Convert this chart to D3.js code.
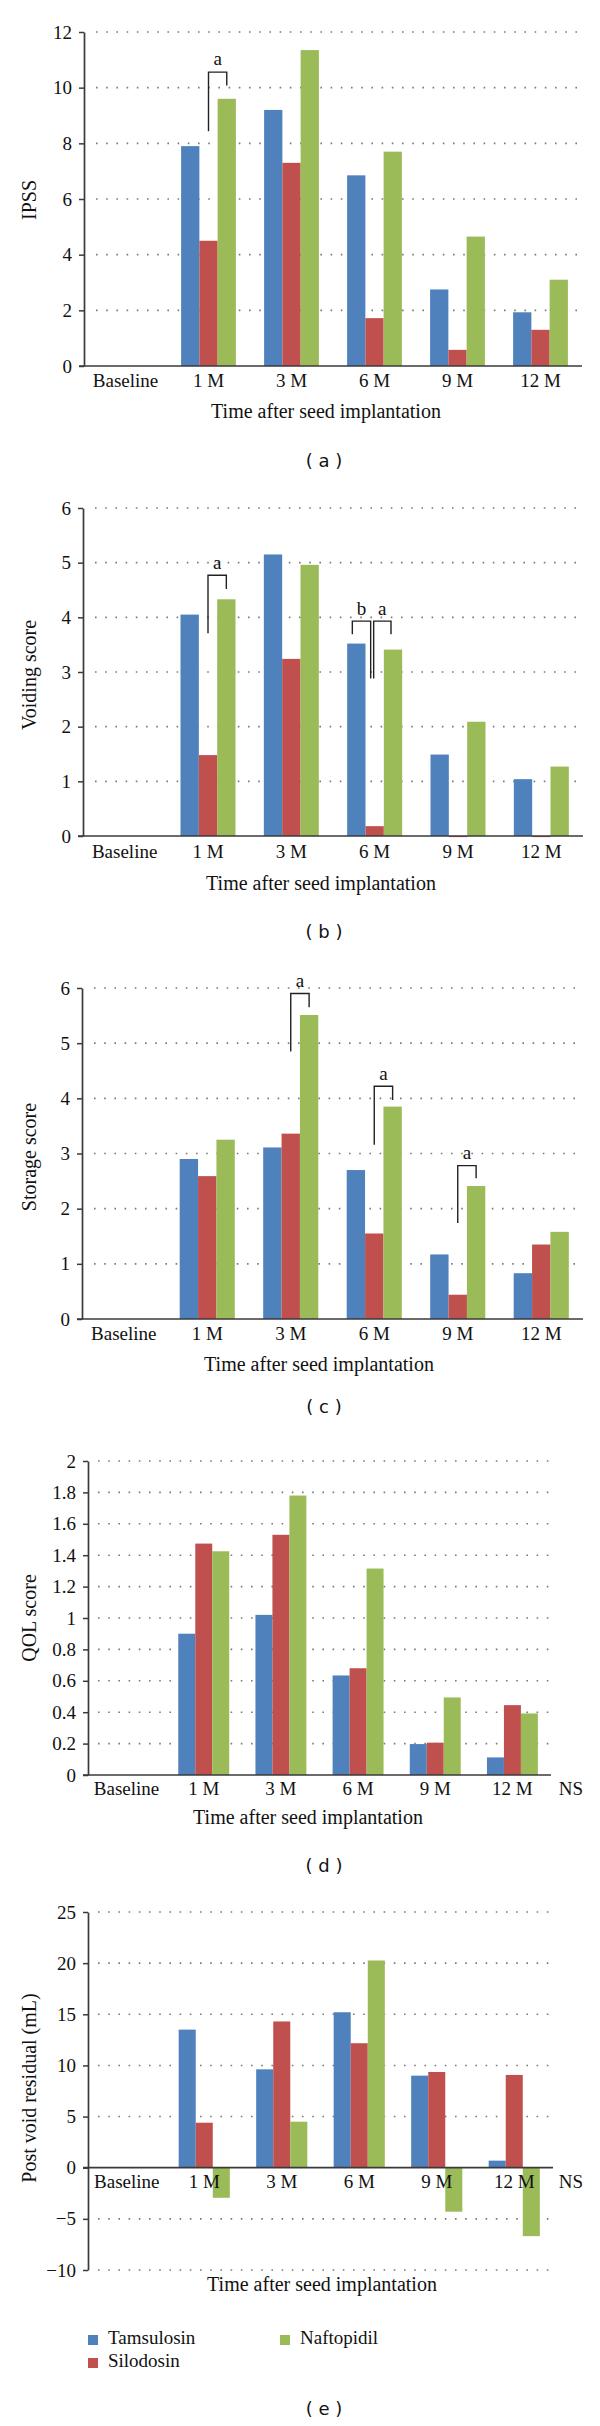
<!DOCTYPE html>
<html><head><meta charset="utf-8">
<script src="https://cdn.jsdelivr.net/npm/d3@7/dist/d3.min.js"></script>
<style>body{margin:0;background:#fff}svg{display:block}</style>
</head><body>
<script>
// ---------- data ----------
const categories = ["Baseline", "1 M", "3 M", "6 M", "9 M", "12 M"];
const seriesNames = ["Tamsulosin", "Silodosin", "Naftopidil"];
const seriesColors = ["#4F81BD", "#C0504D", "#9BBB59"];

const ipssTamsulosin  = [0, 7.9, 9.2, 6.85, 2.75, 1.93];
const ipssSilodosin   = [0, 4.5, 7.3, 1.72, 0.58, 1.3];
const ipssNaftopidil  = [0, 9.6, 11.35, 7.7, 4.65, 3.1];

const voidingTamsulosin = [0, 4.05, 5.15, 3.52, 1.49, 1.04];
const voidingSilodosin  = [0, 1.48, 3.24, 0.18, -0.02, -0.02];
const voidingNaftopidil = [0, 4.33, 4.96, 3.41, 2.09, 1.27];

const storageTamsulosin = [0, 2.9, 3.11, 2.7, 1.17, 0.83];
const storageSilodosin  = [0, 2.59, 3.36, 1.55, 0.44, 1.35];
const storageNaftopidil = [0, 3.25, 5.51, 3.85, 2.41, 1.58];

const qolTamsulosin = [0, 0.9, 1.02, 0.634, 0.197, 0.112];
const qolSilodosin  = [0, 1.474, 1.53, 0.68, 0.206, 0.445];
const qolNaftopidil = [0, 1.425, 1.78, 1.315, 0.494, 0.392];

const pvrTamsulosin = [0, 13.5, 9.62, 15.2, 9.0, 0.69];
const pvrSilodosin  = [0, 4.4, 14.3, 12.17, 9.36, 9.07];
const pvrNaftopidil = [0, -2.94, 4.5, 20.26, -4.3, -6.69];

const ipssTicks    = [0, 2, 4, 6, 8, 10, 12];
const voidingTicks = [0, 1, 2, 3, 4, 5, 6];
const storageTicks = [0, 1, 2, 3, 4, 5, 6];
const qolTicks     = [0, 0.2, 0.4, 0.6, 0.8, 1, 1.2, 1.4, 1.6, 1.8, 2];
const pvrTicks     = [-10, -5, 0, 5, 10, 15, 20, 25];

// significance brackets: category, from-series, to-series, top value, leg-bottom values, label
const ipssBrackets = [
  {cat: "1 M", s1: 1, s2: 2, top: 10.56, b1: 8.43, b2: 10.08, label: "a"}
];
const voidingBrackets = [
  {cat: "1 M", s1: 1, s2: 2, top: 4.77, b1: 3.71, b2: 4.52, label: "a"},
  {cat: "6 M", s1: 0, s2: 1, top: 3.93, b1: 3.69, b2: 2.88, label: "b", d1: -4, d2: -4},
  {cat: "6 M", s1: 1, s2: 2, top: 3.93, b1: 2.88, b2: 3.69, label: "a", d1: -1, d2: -2}
];
const storageBrackets = [
  {cat: "3 M", s1: 1, s2: 2, top: 5.90, b1: 4.85, b2: 5.65, label: "a"},
  {cat: "6 M", s1: 1, s2: 2, top: 4.22, b1: 3.16, b2: 3.97, label: "a"},
  {cat: "9 M", s1: 1, s2: 2, top: 2.78, b1: 1.74, b2: 2.55, label: "a"}
];

// ---------- layout ----------
const panels = [
  {label: "a", ytitle: "IPSS", series: [ipssTamsulosin, ipssSilodosin, ipssNaftopidil],
   ticks: ipssTicks, domain: [0, 12], brackets: ipssBrackets, ns: false,
   L: {x0: 84, x1: 582, yb: 366, yt: 32, gx0: 96, gx1: 577, catY: 383, titleX: 326, titleY: 413, labY: 462, ytY: 200}},
  {label: "b", ytitle: "Voiding score", series: [voidingTamsulosin, voidingSilodosin, voidingNaftopidil],
   ticks: voidingTicks, domain: [0, 6], brackets: voidingBrackets, ns: false,
   L: {x0: 83, x1: 583, yb: 836, yt: 508, gx0: 95, gx1: 578, catY: 854, titleX: 321, titleY: 885, labY: 933, ytY: 675}},
  {label: "c", ytitle: "Storage score", series: [storageTamsulosin, storageSilodosin, storageNaftopidil],
   ticks: storageTicks, domain: [0, 6], brackets: storageBrackets, ns: false,
   L: {x0: 82, x1: 583, yb: 1319, yt: 988, gx0: 94, gx1: 578, catY: 1336, titleX: 319, titleY: 1366, labY: 1408, ytY: 1157}},
  {label: "d", ytitle: "QOL score", series: [qolTamsulosin, qolSilodosin, qolNaftopidil],
   ticks: qolTicks, domain: [0, 2], brackets: [], ns: true,
   L: {x0: 88, x1: 551, yb: 1775, yt: 1461, gx0: 98, gx1: 549, catY: 1791, titleX: 308, titleY: 1819, labY: 1867, ytY: 1618}},
  {label: "e", ytitle: "Post void residual (mL)", series: [pvrTamsulosin, pvrSilodosin, pvrNaftopidil],
   ticks: pvrTicks, domain: [-10, 25], brackets: [], ns: true,
   L: {x0: 88, x1: 553, yb: 2270, yt: 1912, gx0: 98, gx1: 549, catY: 2184, titleX: 322, titleY: 2286, labY: 2410, ytY: 2088}}
];

const W = 600, H = 2426;
const SERIF = '"Liberation Serif", "Times New Roman", serif';
const SANS = '"DejaVu Sans", sans-serif';
const AXIS = "#3a3a3a";

const svg = d3.select("body").append("svg").attr("width", W).attr("height", H)
  .style("font-family", SERIF);

const fmt = d => d < 0 ? "\u2212" + Math.abs(d) : String(d);

panels.forEach(p => {
  const L = p.L;
  const g = svg.append("g");
  const x = d3.scaleBand().domain(categories).range([L.x0, L.x1]);
  const groupW = x.bandwidth() * 0.66;
  const xs = d3.scaleBand().domain(d3.range(3)).range([0, groupW]);
  const off = (x.bandwidth() - groupW) / 2;
  const y = d3.scaleLinear().domain(p.domain).range([L.yb, L.yt]);
  const barX = (cat, s) => x(cat) + off + xs(s);
  const barC = (cat, s) => barX(cat, s) + xs.bandwidth() / 2;

  // dotted grid
  g.append("g").selectAll("line").data(p.ticks.filter(t => t !== 0)).join("line")
    .attr("x1", L.gx0).attr("x2", L.gx1)
    .attr("y1", d => y(d)).attr("y2", d => y(d))
    .attr("stroke", "#7a7a7a").attr("stroke-width", 1.6)
    .attr("stroke-dasharray", "1.6,8.6").attr("stroke-linecap", "butt");

  // bars
  p.series.forEach((vals, s) => {
    g.append("g").selectAll("rect").data(vals.map((v, i) => ({cat: categories[i], v})).filter(d => d.v !== 0))
      .join("rect")
      .attr("x", d => barX(d.cat, s))
      .attr("width", xs.bandwidth())
      .attr("y", d => Math.min(y(d.v), y(0)))
      .attr("height", d => Math.abs(y(d.v) - y(0)))
      .attr("fill", seriesColors[s]);
  });

  // y axis
  const ay = g.append("g").attr("transform", `translate(${L.x0},0)`)
    .call(d3.axisLeft(y).tickValues(p.ticks).tickFormat(fmt).tickSizeInner(5).tickSizeOuter(0).tickPadding(7));
  ay.select(".domain").attr("stroke", AXIS).attr("stroke-width", 1.7);
  ay.selectAll(".tick line").attr("stroke", AXIS).attr("stroke-width", 1.5);
  ay.selectAll(".tick text").attr("font-family", SERIF).attr("font-size", 19).attr("fill", "#111");

  // x axis line at zero
  g.append("line").attr("x1", L.x0 - 5).attr("x2", L.x1).attr("y1", y(0)).attr("y2", y(0))
    .attr("stroke", AXIS).attr("stroke-width", 1.7);

  // category labels
  g.append("g").selectAll("text").data(categories).join("text")
    .attr("x", d => x(d) + x.bandwidth() / 2).attr("y", L.catY)
    .attr("text-anchor", "middle").attr("dominant-baseline", "middle")
    .attr("font-size", 19).attr("fill", "#111").text(d => d);

  if (p.ns) {
    g.append("text").attr("x", 571).attr("y", L.catY).attr("text-anchor", "middle")
      .attr("dominant-baseline", "middle").attr("font-size", 19).attr("fill", "#111").text("NS");
  }

  // axis titles
  g.append("text").attr("x", L.titleX).attr("y", L.titleY).attr("text-anchor", "middle")
    .attr("dominant-baseline", "middle").attr("font-size", 20).attr("fill", "#111")
    .text("Time after seed implantation");
  g.append("text").attr("transform", `translate(31,${L.ytY}) rotate(-90)`)
    .attr("text-anchor", "middle").attr("dominant-baseline", "middle")
    .attr("font-size", 20).attr("fill", "#111").text(p.ytitle);

  // panel label
  g.append("text").attr("x", 324).attr("y", L.labY).attr("text-anchor", "middle")
    .attr("dominant-baseline", "middle").attr("font-family", SANS).attr("font-size", 18)
    .attr("fill", "#111").text(`( ${p.label} )`);

  // brackets
  p.brackets.forEach(b => {
    const xa = barC(b.cat, b.s1) + (b.d1 || 0);
    const xb = barC(b.cat, b.s2) + (b.d2 || 0);
    g.append("path")
      .attr("d", `M${xa},${y(b.b1)}V${y(b.top)}H${xb}V${y(b.b2)}`)
      .attr("fill", "none").attr("stroke", "#222").attr("stroke-width", 1.4);
    g.append("text").attr("x", (xa + xb) / 2).attr("y", y(b.top) - 11)
      .attr("text-anchor", "middle").attr("dominant-baseline", "middle")
      .attr("font-size", 19).attr("fill", "#111").text(b.label);
  });
});

// legend
const legendItems = [
  {name: seriesNames[0], color: seriesColors[0], x: 88, y: 2340},
  {name: seriesNames[1], color: seriesColors[1], x: 88, y: 2363},
  {name: seriesNames[2], color: seriesColors[2], x: 280, y: 2340}
];
const lg = svg.append("g").selectAll("g").data(legendItems).join("g")
  .attr("transform", d => `translate(${d.x},${d.y})`);
lg.append("rect").attr("x", 0).attr("y", -5).attr("width", 10).attr("height", 10).attr("fill", d => d.color);
lg.append("text").attr("x", 20).attr("y", 0).attr("dominant-baseline", "middle")
  .attr("font-size", 19).attr("fill", "#111").text(d => d.name);
</script>
</body></html>
